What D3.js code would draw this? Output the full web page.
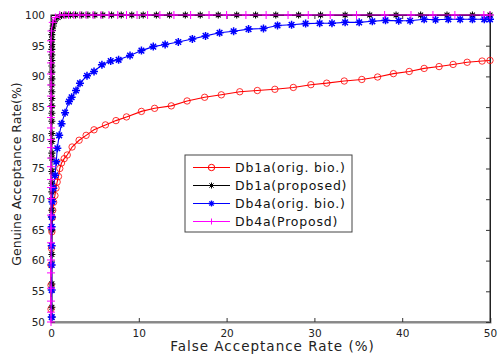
<!DOCTYPE html>
<html>
<head>
<meta charset="utf-8">
<script src="https://cdn.jsdelivr.net/npm/d3@7"></script>
<style>
  body { margin: 0; background: #fff; }
  text { font-family: "DejaVu Sans", Verdana, sans-serif; }
</style>
</head>
<body>
<div class="root"></div>
<script>
var width = 498, height = 356;

// Db1a (orig. bio.)
var db1aOrigFar = [0, 0, 0, 0.05, 0.1, 0.15, 0.2, 0.3, 0.45, 0.57, 0.7, 0.85, 1.0, 1.2, 1.5, 1.85, 2.4, 3.2, 4.0, 4.9, 6.2, 7.4, 8.6, 10.3, 11.8, 13.7, 15.5, 17.5, 19.4, 21.5, 23.5, 25.5, 27.6, 29.6, 31.4, 33.4, 35.4, 37.2, 39.0, 40.8, 42.5, 44.2, 45.8, 47.4, 49.1, 50];
var db1aOrigGar = [52.1, 56.0, 59.3, 62.0, 64.7, 67.0, 68.2, 69.5, 70.6, 71.8, 72.8, 73.7, 75.0, 75.9, 76.6, 77.2, 78.5, 79.6, 80.4, 81.3, 82.1, 82.8, 83.4, 84.3, 84.8, 85.2, 86.0, 86.6, 87.0, 87.5, 87.7, 87.9, 88.2, 88.65, 88.9, 89.25, 89.5, 89.9, 90.45, 90.8, 91.3, 91.6, 91.95, 92.3, 92.5, 92.6];

// Db1a (proposed)
var db1aPropFar = [0.1, 0.1, 0.1, 0.1, 0.1, 0.1, 0.1, 0.1, 0.1, 0.1, 0.1, 0.1, 0.1, 0.1, 0.1, 0.1, 0.1, 0.1, 0.1, 0.1, 0.1, 0.1, 0.1, 0.1, 0.1, 0.1, 0.1, 0.1, 0.1, 0.1, 0.15, 0.25, 0.4, 0.8, 1.2, 1.7, 2.2, 2.8, 3.5, 4.2, 5.0, 5.9, 6.9, 8.0, 9.2, 10.5, 12.0, 13.5, 15.3, 17.0, 19.05, 21.15, 23.3, 25.6, 28.2, 30.7, 33.5, 36.3, 39.3, 42.1, 45.1, 48.0, 50];
var db1aPropGar = [50.8, 52.4, 56.2, 61.0, 65.0, 67.1, 68.2, 69.9, 71.2, 72.6, 74.5, 76.7, 77.5, 79.4, 80.7, 82.7, 84.0, 85.2, 86.4, 87.5, 88.6, 89.6, 90.7, 91.7, 92.6, 93.5, 94.4, 95.2, 96.0, 96.8, 97.5, 98.2, 98.9, 99.6, 99.9, 100, 100, 100, 100, 100, 100, 100, 100, 100, 100, 100, 100, 100, 100, 100, 100, 100, 100, 100, 100, 100, 100, 100, 100, 100, 100, 100, 100];

// Db4a (orig. bio.)
var db4aOrigFar = [0.08, 0.08, 0.08, 0.08, 0.08, 0.1, 0.15, 0.26, 0.46, 0.6, 0.72, 0.93, 1.2, 1.6, 2.05, 2.35, 2.85, 3.3, 4.1, 4.9, 5.8, 6.8, 7.7, 9.0, 10.3, 11.65, 13.0, 14.5, 16.1, 17.6, 19.2, 20.8, 22.5, 24.2, 25.8, 27.4, 29.0, 30.6, 32.0, 33.5, 35.1, 36.6, 38.1, 39.6, 40.9, 42.5, 43.8, 45.25, 46.6, 48.0, 49.35, 50];
var db4aOrigGar = [50.8, 55.2, 59.3, 62.4, 65.5, 67.1, 69.6, 71.8, 73.9, 76.1, 78.3, 80.4, 82.3, 84.1, 85.9, 86.6, 87.7, 88.9, 90.1, 90.8, 91.9, 92.5, 92.7, 93.4, 94.2, 94.85, 95.2, 95.6, 96.1, 96.6, 97.1, 97.35, 97.7, 97.8, 98.3, 98.4, 98.6, 98.65, 98.65, 98.8, 98.8, 98.97, 99.13, 99.07, 99.07, 99.3, 99.23, 99.3, 99.3, 99.3, 99.3, 99.3];

// Db4a (Proposd)
var db4aPropFar = [0, 0, 0, 0, 0, 0, 0, 0, 0, 0, 0, 0, 0, 0, 0, 0, 0, 0, 0, 0, 0, 0, 0, 0, 0, 0.05, 0.2, 0.5, 1.0, 1.5, 2.0, 2.6, 3.3, 4.0, 4.8, 5.7, 6.6, 7.6, 8.6, 9.8, 11.0, 12.4, 14.0, 15.9, 18.0, 20.0, 22.2, 24.5, 27.0, 29.3, 31.8, 34.8, 38.0, 41.0, 43.5, 46.0, 49.3, 50];
var db4aPropGar = [50.0, 51.6, 53.4, 55.5, 58.0, 60.1, 62.9, 65.3, 67.4, 70.1, 71.9, 73.2, 75.3, 76.7, 78.4, 79.7, 81.6, 83.3, 85.1, 86.8, 88.6, 90.4, 92.2, 94.0, 95.8, 97.4, 98.8, 99.6, 100, 100, 100, 100, 100, 100, 100, 100, 100, 100, 100, 100, 100, 100, 100, 100, 100, 100, 100, 100, 100, 100, 100, 100, 100, 100, 100, 100, 100, 100];

var xTicks = [0, 10, 20, 30, 40, 50];
var yTicks = [50, 55, 60, 65, 70, 75, 80, 85, 90, 95, 100];

var series = [
  { name: "Db1a(orig. bio.)", far: db1aOrigFar, gar: db1aOrigGar, color: "#ff0000", marker: "circle" },
  { name: "Db1a(proposed)", far: db1aPropFar, gar: db1aPropGar, color: "#000000", marker: "star" },
  { name: "Db4a(orig. bio.)", far: db4aOrigFar, gar: db4aOrigGar, color: "#0000ff", marker: "boldstar" },
  { name: "Db4a(Proposd)", far: db4aPropFar, gar: db4aPropGar, color: "#ff00ff", marker: "plus" }
];

var margin = { left: 51, right: 8, top: 15, bottom: 34 };
var x = d3.scaleLinear().domain([0, 50]).range([margin.left, width - margin.right]);
var y = d3.scaleLinear().domain([50, 100]).range([height - margin.bottom, margin.top]);

var svg = d3.select(".root").append("svg")
  .attr("width", width)
  .attr("height", height);

// frame
svg.append("rect")
  .attr("x", x(0)).attr("y", y(100))
  .attr("width", x(50) - x(0)).attr("height", y(50) - y(100))
  .attr("fill", "none").attr("stroke", "#222").attr("stroke-width", 1);

var xAxis = svg.append("g")
  .attr("transform", "translate(0," + y(50) + ")")
  .call(d3.axisBottom(x).tickValues(xTicks).tickSize(-4).tickPadding(8).tickFormat(d3.format("d")));
xAxis.select(".domain").attr("stroke", "#888").attr("stroke-width", 2);

var yAxis = svg.append("g")
  .attr("transform", "translate(" + x(0) + ",0)")
  .call(d3.axisLeft(y).tickValues(yTicks).tickSize(-4).tickPadding(6).tickFormat(d3.format("d")));
yAxis.select(".domain").attr("stroke", "#555");

var rAxis = svg.append("g")
  .attr("transform", "translate(" + x(50) + ",0)")
  .call(d3.axisRight(y).tickValues(yTicks).tickSize(-4).tickFormat(""));
rAxis.select(".domain").attr("stroke", "#222");

var tAxis = svg.append("g")
  .attr("transform", "translate(0," + y(100) + ")")
  .call(d3.axisTop(x).tickValues(xTicks).tickSize(-4).tickFormat(""));

svg.selectAll(".tick text")
  .attr("fill", "#222")
  .style("font-size", "10.5px");
svg.selectAll(".tick line").attr("stroke", "#333");

function markerPath(type, s) {
  if (type === "circle") {
    return "M" + (-s) + ",0a" + s + "," + s + " 0 1,0 " + (2 * s) + ",0a" + s + "," + s + " 0 1,0 " + (-2 * s) + ",0";
  }
  if (type === "plus") {
    return "M0," + (-s) + "V" + s + "M" + (-s) + ",0H" + s;
  }
  var d = s * 0.7;
  return "M0," + (-s) + "V" + s + "M" + (-s) + ",0H" + s +
    "M" + (-d) + "," + (-d) + "L" + d + "," + d + "M" + (-d) + "," + d + "L" + d + "," + (-d);
}

var markerSize = { circle: 3.2, star: 3.5, boldstar: 4, plus: 4 };
var markerWidth = { circle: 1, star: 1.1, boldstar: 1.5, plus: 1 };

var line = d3.line()
  .x(function (d) { return x(d[0]); })
  .y(function (d) { return y(d[1]); });

var plot = svg.append("g").attr("class", "series");

series.forEach(function (s) {
  var pts = s.far.map(function (f, i) { return [f, s.gar[i]]; });
  var g = plot.append("g");
  g.append("path")
    .datum(pts)
    .attr("d", line)
    .attr("fill", "none")
    .attr("stroke", s.color)
    .attr("stroke-width", 1.1);
  g.selectAll("path.mk")
    .data(pts)
    .enter().append("path")
    .attr("class", "mk")
    .attr("transform", function (d) { return "translate(" + x(d[0]) + "," + y(d[1]) + ")"; })
    .attr("d", markerPath(s.marker, markerSize[s.marker]))
    .attr("fill", "none")
    .attr("stroke", s.color)
    .attr("stroke-opacity", s.marker === "circle" ? 0.8 : 1)
    .attr("stroke-width", markerWidth[s.marker]);
});

// legend
var legend = svg.append("g").attr("transform", "translate(185,155)");
legend.append("rect")
  .attr("width", 167).attr("height", 77)
  .attr("fill", "#fff").attr("stroke", "#444").attr("stroke-width", 1);
series.forEach(function (s, i) {
  var ly = 12.5 + i * 18;
  legend.append("line")
    .attr("x1", 8).attr("x2", 45).attr("y1", ly).attr("y2", ly)
    .attr("stroke", s.color).attr("stroke-width", 1);
  legend.append("path")
    .attr("transform", "translate(26.5," + ly + ")")
    .attr("d", markerPath(s.marker, s.marker === "circle" ? 3.2 : 3))
    .attr("fill", "none")
    .attr("stroke", s.color)
    .attr("stroke-width", s.marker === "boldstar" ? 1.3 : 1);
  legend.append("text")
    .attr("x", 50).attr("y", ly)
    .attr("dy", "0.36em")
    .attr("fill", "#111")
    .style("font-size", "12.5px")
    .style("letter-spacing", "0.8px")
    .text(s.name);
});

// axis titles
svg.append("text")
  .attr("x", (x(0) + x(50)) / 2 + 2)
  .attr("y", 351)
  .attr("text-anchor", "middle")
  .attr("fill", "#222")
  .style("font-size", "13.5px")
  .style("letter-spacing", "1px")
  .text("False Acceptance Rate (%)");

svg.append("text")
  .attr("transform", "translate(21," + 174 + ") rotate(-90)")
  .attr("text-anchor", "middle")
  .attr("fill", "#222")
  .style("font-size", "12.5px")
  .text("Genuine Acceptance Rate(%)");
</script>
</body>
</html>
